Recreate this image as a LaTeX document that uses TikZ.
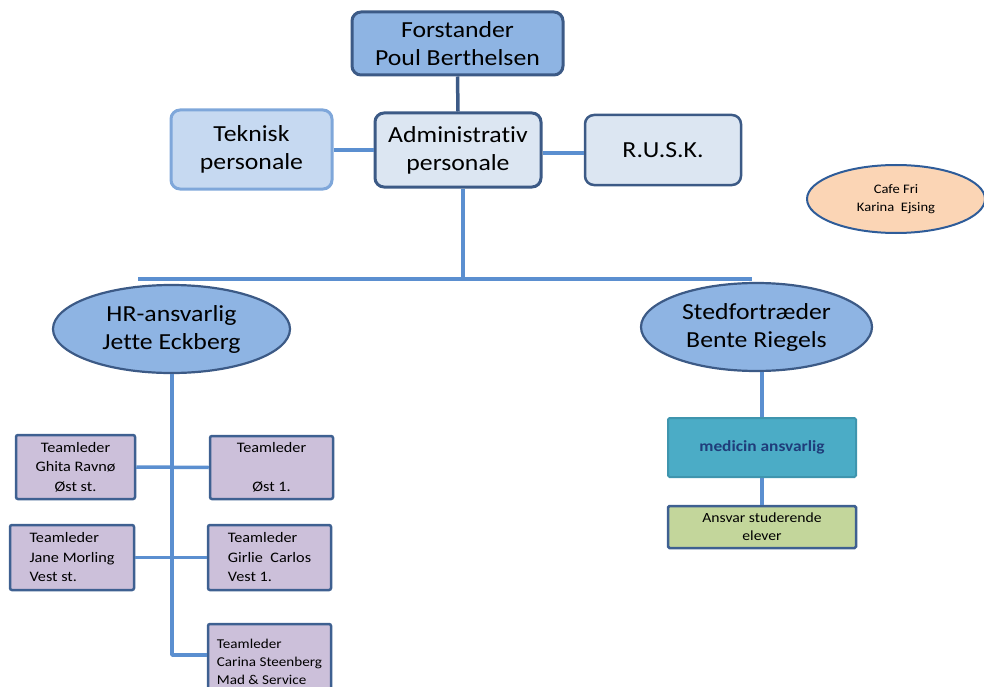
\documentclass[tikz,border=0pt]{standalone}
\usepackage{fontspec}
\setmainfont{Carlito}[FakeStretch=1.12, Ligatures=NoCommon]
\usetikzlibrary{shapes.geometric}
\definecolor{conn}{HTML}{5B8FD0}
\definecolor{darkedge}{HTML}{3C5A86}
\definecolor{fmain}{HTML}{8EB4E3}
\definecolor{flight}{HTML}{DCE6F2}
\definecolor{ftek}{HTML}{C6D9F1}
\definecolor{etek}{HTML}{7FA7DA}
\definecolor{fcafe}{HTML}{FBD5B5}
\definecolor{ecafe}{HTML}{2E5C99}
\definecolor{fteam}{HTML}{CCC0DA}
\definecolor{eteam}{HTML}{3E6091}
\definecolor{fmed}{HTML}{4BACC6}
\definecolor{emed}{HTML}{3F95AE}
\definecolor{tmed}{HTML}{1F3D7A}
\definecolor{fans}{HTML}{C3D69B}
\tikzset{
  bigbox/.style={draw=darkedge, line width=3pt, rounded corners=9pt, inner sep=0pt, align=center,
    font=\fontsize{23}{28}\selectfont},
  bigell/.style={ellipse, draw=darkedge, line width=2.2pt, fill=fmain, inner sep=0pt, align=center,
    font=\fontsize{23}{28}\selectfont},
  teambox/.style={draw=eteam, line width=2.5pt, rounded corners=2pt, fill=fteam, inner sep=0pt,
    font=\fontsize{14.5}{19.5}\selectfont},
  link/.style={draw=conn, line width=3.5pt},
}
\begin{document}
\begin{tikzpicture}[x=1pt,y=-1pt]
\useasboundingbox (0,0) rectangle (984,687);
\clip (0,0) rectangle (984,687);
% top level
\node[bigbox, fill=fmain, draw=darkedge, minimum width=211pt, minimum height=63pt] (forst) at (457.5,43.5) {Forstander\\Poul Berthelsen};
\node[bigbox, fill=flight, minimum width=166pt, minimum height=74pt] (admin) at (458,150) {Administrativ\\personale};
\node[bigbox, fill=ftek, draw=etek, minimum width=161pt, minimum height=79pt] (tek) at (251.5,149.5) {Teknisk\\personale};
\node[bigbox, fill=flight, line width=2.5pt, minimum width=156pt, minimum height=70pt] (rusk) at (663,150) {R.U.S.K.};
\node[ellipse, draw=ecafe, line width=2pt, fill=fcafe, minimum width=178pt, minimum height=68pt, inner sep=0pt, align=center,
  font=\fontsize{13}{18}\selectfont] (cafe) at (896,199) {Cafe Fri\\Karina\ \ Ejsing};
% second level
\node[bigell, minimum width=237pt, minimum height=88pt] (hr) at (171.5,329) {HR-ansvarlig\\Jette Eckberg};
\node[bigell, minimum width=231pt, minimum height=88pt] (sted) at (756.5,327) {Stedfortræder\\Bente Riegels};
% team boxes
\node[teambox, align=center, minimum width=119pt, minimum height=64pt] (ghita) at (75.5,467) {Teamleder\\Ghita Ravnø\\Øst st.};
\node[teambox, align=center, minimum width=123pt, minimum height=63pt] (ost) at (271.5,467.5) {Teamleder\\\mbox{}\\Øst 1.};
\node[teambox, align=left, minimum width=124pt, minimum height=65pt] (jane) at (72,557.5) {Teamleder\\Jane Morling\\Vest st.};
\node[teambox, align=left, minimum width=123pt, minimum height=65pt] (girlie) at (269.5,557.5) {Teamleder\\Girlie\ \ Carlos\\Vest 1.};
\node[teambox, align=left, minimum width=123pt, minimum height=76pt, font=\fontsize{13.5}{18}\selectfont] (carina) at (269.5,662) {Teamleder\\Carina Steenberg\\Mad \& Service};
% right branch
\node[draw=emed, line width=2pt, fill=fmed, rounded corners=1.5pt, minimum width=188pt, minimum height=59pt, inner sep=0pt,
  text=tmed, font=\bfseries\fontsize{15.5}{18}\selectfont] (med) at (762,447.5) {medicin ansvarlig};
\node[draw=eteam, line width=2.5pt, fill=fans, rounded corners=1.5pt, minimum width=188pt, minimum height=42pt, inner sep=0pt,
  align=center, font=\fontsize{14}{18}\selectfont] (ans) at (762,527) {Ansvar studerende\\elever};
% connectors
\coordinate (barL) at (138,279);
\coordinate (barR) at (752,279);
\coordinate (hrend) at (172,655);
\draw[draw=darkedge, line width=3.5pt] (forst.south) -- (admin.north);
\draw[link] (tek.east |- admin.west) -- (admin.west);
\draw[link] (admin.east |- 0,153) -- (rusk.west |- 0,153);
\draw[link] (admin.south -| 463,0) -- (barL -| 463,0);
\draw[link] (barL) -- (barR);
\draw[link, line join=round] (hr.south -| hrend) -- (hrend) -- (hrend -| carina.west);
\draw[link] (ghita.east) -- (ost.west);
\draw[link] (jane.east) -- (girlie.west);
\draw[link] (med.north |- sted.south) -- (med.north);
\draw[link] (med.south) -- (ans.north);
\end{tikzpicture}
\end{document}
